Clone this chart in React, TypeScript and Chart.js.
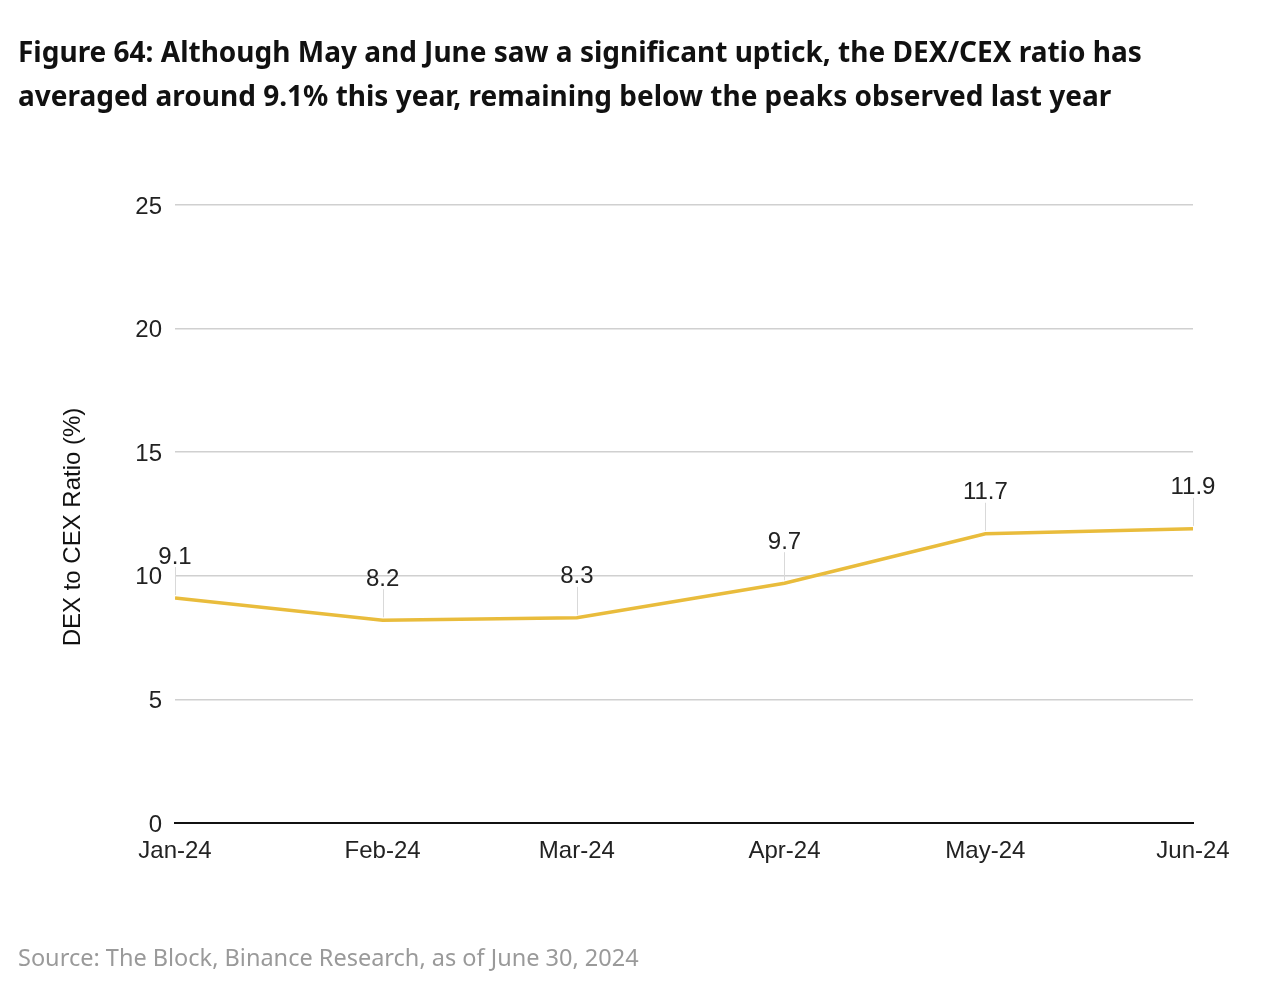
import React, { useEffect, useRef } from "react";
import { Chart, registerables } from "chart.js";

Chart.register(...registerables);

const monthDates = ["2024-01-01", "2024-02-01", "2024-03-01", "2024-04-01", "2024-05-01", "2024-06-01"];
const monthLabels = ["Jan-24", "Feb-24", "Mar-24", "Apr-24", "May-24", "Jun-24"];
const ratioValues = [9.1, 8.2, 8.3, 9.7, 11.7, 11.9];
const yTicks = [0, 5, 10, 15, 20, 25];

const titleLines = [
  "Figure 64: Although May and June saw a significant uptick, the DEX/CEX ratio has",
  "averaged around 9.1% this year, remaining below the peaks observed last year",
];
const sourceText = "Source: The Block, Binance Research, as of June 30, 2024";
const yTitle = "DEX to CEX Ratio (%)";

const dayOffset = (d: string) =>
  Math.round((Date.parse(d + "T00:00:00Z") - Date.parse(monthDates[0] + "T00:00:00Z")) / 86400000);
const xValues = monthDates.map(dayOffset);

const AXIS_FONT = "'Liberation Sans', Arial, sans-serif";

const labelPlugin = {
  id: "valueLabels",
  afterDatasetsDraw(chart: any) {
    const ctx = chart.ctx;
    const meta = chart.getDatasetMeta(0);
    ctx.save();
    meta.data.forEach((pt: any, i: number) => {
      const x = pt.x;
      const y = pt.y;
      ctx.strokeStyle = "#d9d9d9";
      ctx.lineWidth = 1;
      ctx.beginPath();
      ctx.moveTo(Math.round(x) + 0.5, y - 3);
      ctx.lineTo(Math.round(x) + 0.5, y - 31);
      ctx.stroke();
      ctx.fillStyle = "#222";
      ctx.font = `24px ${AXIS_FONT}`;
      ctx.textAlign = "center";
      ctx.textBaseline = "middle";
      ctx.fillText(ratioValues[i].toFixed(1), x, y - 41);
    });
    const area = chart.chartArea;
    ctx.translate(73, (area.top + area.bottom) / 2 + 13);
    ctx.rotate(-Math.PI / 2);
    ctx.fillStyle = "#111";
    ctx.font = `24px ${AXIS_FONT}`;
    ctx.textAlign = "center";
    ctx.textBaseline = "middle";
    ctx.fillText(yTitle, 0, 0);
    ctx.restore();
  },
};

export default function App() {
  const canvasRef = useRef<HTMLCanvasElement | null>(null);

  useEffect(() => {
    if (!canvasRef.current) return;
    const chart = new Chart(canvasRef.current, {
      type: "line",
      data: {
        datasets: [
          {
            data: xValues.map((x, i) => ({ x, y: ratioValues[i] })),
            borderColor: "#E9BC3C",
            borderWidth: 3.5,
            pointRadius: 0,
            tension: 0,
          },
        ],
      },
      options: {
        responsive: false,
        animation: false,
        layout: { padding: { top: 205, right: 87, bottom: 0, left: 0 } },
        plugins: { legend: { display: false }, tooltip: { enabled: false } },
        scales: {
          x: {
            type: "linear",
            min: xValues[0],
            max: xValues[xValues.length - 1],
            afterBuildTicks: (scale: any) => {
              scale.ticks = xValues.map((v) => ({ value: v }));
            },
            afterFit: (scale: any) => {
              scale.height = 177;
            },
            grid: { display: false, drawTicks: false },
            border: { display: true, color: "#111", width: 2 },
            ticks: {
              autoSkip: false,
              maxRotation: 0,
              padding: 14,
              color: "#222",
              font: { family: AXIS_FONT, size: 24 },
              callback: (_v: any, i: number) => monthLabels[i],
            },
          },
          y: {
            min: 0,
            max: 25,
            afterBuildTicks: (scale: any) => {
              scale.ticks = yTicks.map((v) => ({ value: v }));
            },
            afterFit: (scale: any) => {
              scale.width = 175;
            },
            grid: { color: "#d0d0d0", lineWidth: 1.5, drawTicks: false },
            border: { display: false },
            ticks: {
              padding: 13,
              labelOffset: 2,
              color: "#222",
              font: { family: AXIS_FONT, size: 24 },
            },
          },
        },
      },
      plugins: [labelPlugin],
    } as any);
    return () => chart.destroy();
  }, []);

  return (
    <div style={{ position: "absolute", left: 0, top: 0, width: 1280, height: 1000, background: "#fff" }}>
      <canvas ref={canvasRef} width={1280} height={1000} style={{ position: "absolute", left: 0, top: 0 }} />
      <div
        style={{
          position: "absolute",
          left: 18,
          top: 29,
          fontFamily: "'Noto Sans', Roboto, sans-serif",
          fontWeight: 700,
          fontSize: 28,
          lineHeight: "44px",
          color: "#111",
          whiteSpace: "nowrap",
        }}
      >
        {titleLines.map((l, i) => (
          <div key={i}>{l}</div>
        ))}
      </div>
      <div
        style={{
          position: "absolute",
          left: 18,
          top: 943,
          fontFamily: "'Noto Sans', Roboto, sans-serif",
          fontSize: 23.5,
          lineHeight: "28px",
          color: "#9a9a9a",
          whiteSpace: "nowrap",
        }}
      >
        {sourceText}
      </div>
    </div>
  );
}
